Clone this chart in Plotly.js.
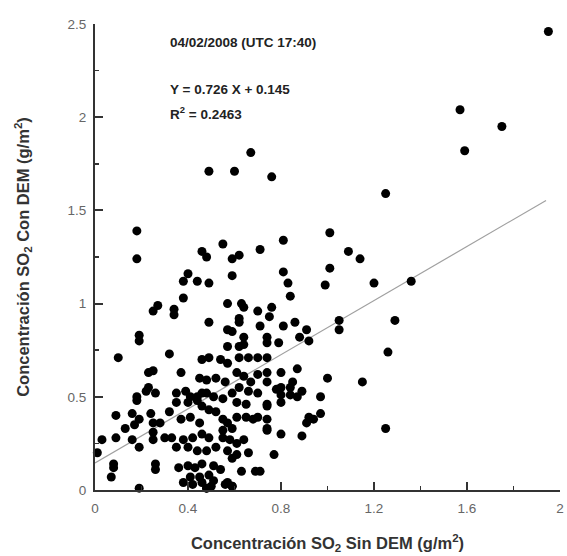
<!DOCTYPE html>
<html>
<head>
<meta charset="utf-8">
<script src="https://cdn.plot.ly/plotly-3.0.1.min.js"></script>
<style>html,body{margin:0;padding:0;background:#fff;}#chart{width:567px;height:556px;}</style>
</head>
<body>
<div id="chart"></div>
<script>
// SO2 concentration without DEM (x) vs with DEM (y), g/m^2
const sinDEM = [
1.95,1.57,1.75,1.59,0.67,0.49,0.60,0.76,1.25,0.18,0.18,0.55,0.46,0.48,0.59,0.62,0.71,0.81,1.01,1.09,
1.14,1.01,0.99,1.20,1.36,0.40,0.38,0.44,0.49,0.59,0.81,0.83,0.38,0.27,0.25,0.34,0.34,0.49,0.19,0.19,
0.10,0.32,0.46,0.49,0.25,0.23,0.37,0.45,0.48,0.23,0.22,0.26,0.35,0.39,0.44,0.48,0.18,0.18,0.09,0.16,
0.24,0.32,0.13,0.17,0.19,0.25,0.28,0.25,0.03,0.09,0.16,0.25,0.30,0.33,0.19,0.01,0.08,0.08,0.07,0.26,
0.26,0.36,0.19,
0.74,0.80,0.84,0.87,0.74,0.74,0.80,0.77,0.92,0.91,0.89,0.63,0.69,0.71,0.66,0.56,0.59,0.48,
0.84,0.57,0.63,0.64,0.70,0.76,0.75,0.62,0.62,0.57,0.59,0.71,0.81,0.86,0.91,0.64,0.64,0.74,0.74,0.79,
0.57,0.62,0.88,0.92,0.74,0.80,0.87,0.85,0.80,0.84,0.80,0.89,
1.05,1.05,1.29,1.26,1.00,1.15,0.97,0.97,0.94,1.25,
0.54,0.57,0.62,0.66,0.70,0.74,0.74,0.52,0.56,0.61,0.64,0.67,0.70,0.62,0.66,0.41,0.46,0.51,0.55,0.59,
0.61,0.65,0.70,0.74,0.78,0.35,0.40,0.44,0.46,0.49,0.52,0.37,0.41,0.45,0.55,0.57,0.55,0.59,0.61,0.65,
0.68,0.70,0.74,0.38,0.42,0.46,0.49,0.55,0.58,0.61,0.64,0.35,0.40,0.44,0.48,0.52,0.57,0.61,0.59,0.40,
0.43,0.46,0.51,0.54,0.41,0.45,0.49,0.51,0.38,0.42,0.46,0.48,0.50,0.57,0.59
];
const conDEM = [
2.46,2.04,1.95,1.82,1.81,1.71,1.71,1.68,1.59,1.39,1.24,1.32,1.28,1.25,1.24,1.26,1.29,1.34,1.38,1.28,
1.24,1.19,1.10,1.11,1.12,1.16,1.12,1.12,1.11,1.15,1.17,1.11,1.03,0.99,0.96,0.97,0.94,0.90,0.83,0.80,
0.71,0.73,0.70,0.71,0.64,0.63,0.63,0.60,0.59,0.55,0.53,0.52,0.52,0.53,0.50,0.52,0.50,0.48,0.40,0.41,
0.41,0.42,0.33,0.35,0.38,0.36,0.36,0.31,0.27,0.28,0.27,0.27,0.28,0.28,0.23,0.20,0.14,0.12,0.07,0.14,
0.11,0.12,0.01,
0.45,0.47,0.51,0.50,0.38,0.33,0.30,0.19,0.39,0.36,0.29,0.10,0.10,0.10,0.20,0.03,0.02,0.01,
1.04,1.00,1.00,0.98,0.96,0.98,0.93,0.92,0.90,0.86,0.85,0.88,0.88,0.90,0.86,0.82,0.78,0.82,0.79,0.79,
0.77,0.77,0.82,0.80,0.71,0.63,0.65,0.58,0.55,0.55,0.51,0.53,
0.91,0.86,0.91,0.74,0.60,0.58,0.50,0.41,0.38,0.33,
0.70,0.68,0.71,0.71,0.71,0.63,0.58,0.60,0.58,0.63,0.61,0.58,0.62,0.55,0.53,0.50,0.52,0.50,0.49,0.52,
0.47,0.46,0.52,0.46,0.54,0.47,0.47,0.48,0.45,0.43,0.42,0.38,0.39,0.36,0.38,0.36,0.32,0.33,0.39,0.39,
0.38,0.39,0.32,0.27,0.28,0.30,0.28,0.28,0.27,0.25,0.27,0.23,0.23,0.21,0.21,0.23,0.21,0.19,0.17,0.13,
0.12,0.14,0.13,0.11,0.07,0.07,0.08,0.05,0.04,0.03,0.04,0.01,0.02,0.04,0.02
];
// Linear fit Y = 0.726 X + 0.145
const slope = 0.726, intercept = 0.145;
const fitX = [0, 1.94];
const fitY = fitX.map(v => slope * v + intercept);

const xTicks = [0, 0.4, 0.8, 1.2, 1.6, 2];
const yTicks = [0, 0.5, 1, 1.5, 2, 2.5];

const traces = [
  {x: fitX, y: fitY, mode: 'lines', line: {color: '#a0a0a0', width: 1.2}, hoverinfo: 'skip'},
  {x: sinDEM, y: conDEM, mode: 'markers', marker: {color: '#000', size: 9}, cliponaxis: false}
];

const tickFont = {family: 'Liberation Sans, Arial, sans-serif', size: 13.5, color: '#666'};
const titleFont = {family: 'Liberation Sans, Arial, sans-serif', size: 16.5, color: '#333', weight: 'bold'};
const annFont = {family: 'Liberation Sans, Arial, sans-serif', size: 13.5, color: '#222', weight: 'bold'};

const layout = {
  width: 567, height: 556,
  margin: {l: 95, r: 7, t: 24, b: 66},
  paper_bgcolor: '#fff', plot_bgcolor: '#fff',
  showlegend: false,
  xaxis: {
    range: [0, 2], tickvals: xTicks, ticktext: xTicks.map(String),
    showgrid: false, zeroline: false, showline: true, linecolor: '#333', linewidth: 2,
    ticks: 'inside', ticklen: 8, tickwidth: 2, tickcolor: '#333',
    minor: {dtick: 0.2, tick0: 0, ticks: 'inside', ticklen: 4, tickwidth: 1.5, tickcolor: '#333', showgrid: false},
    tickfont: tickFont, ticklabelstandoff: 5,
    title: {text: 'Concentración SO<sub>2</sub> Sin DEM (g/m<sup>2</sup>)', font: titleFont, standoff: 22}
  },
  yaxis: {
    range: [0, 2.5], tickvals: yTicks, ticktext: yTicks.map(String),
    showgrid: false, zeroline: false, showline: true, linecolor: '#333', linewidth: 2,
    ticks: 'inside', ticklen: 8, tickwidth: 2, tickcolor: '#333',
    minor: {dtick: 0.25, tick0: 0, ticks: 'inside', ticklen: 4, tickwidth: 1.5, tickcolor: '#333', showgrid: false},
    tickfont: tickFont, ticklabelstandoff: 4,
    title: {text: 'Concentración SO<sub>2</sub> Con DEM (g/m<sup>2</sup>)', font: titleFont, standoff: 34}
  },
  annotations: [
    {x: 0.314, y: 2.40, xref: 'x', yref: 'y', text: '04/02/2008 (UTC 17:40)', showarrow: false, xanchor: 'left', yanchor: 'middle', font: annFont},
    {x: 0.314, y: 2.146, xref: 'x', yref: 'y', text: 'Y = 0.726 X + 0.145', showarrow: false, xanchor: 'left', yanchor: 'middle', font: annFont},
    {x: 0.314, y: 2.02, xref: 'x', yref: 'y', text: 'R<sup>2</sup> = 0.2463', showarrow: false, xanchor: 'left', yanchor: 'middle', font: annFont}
  ]
};

Plotly.newPlot('chart', traces, layout, {displayModeBar: false, staticPlot: true});
</script>
</body>
</html>
